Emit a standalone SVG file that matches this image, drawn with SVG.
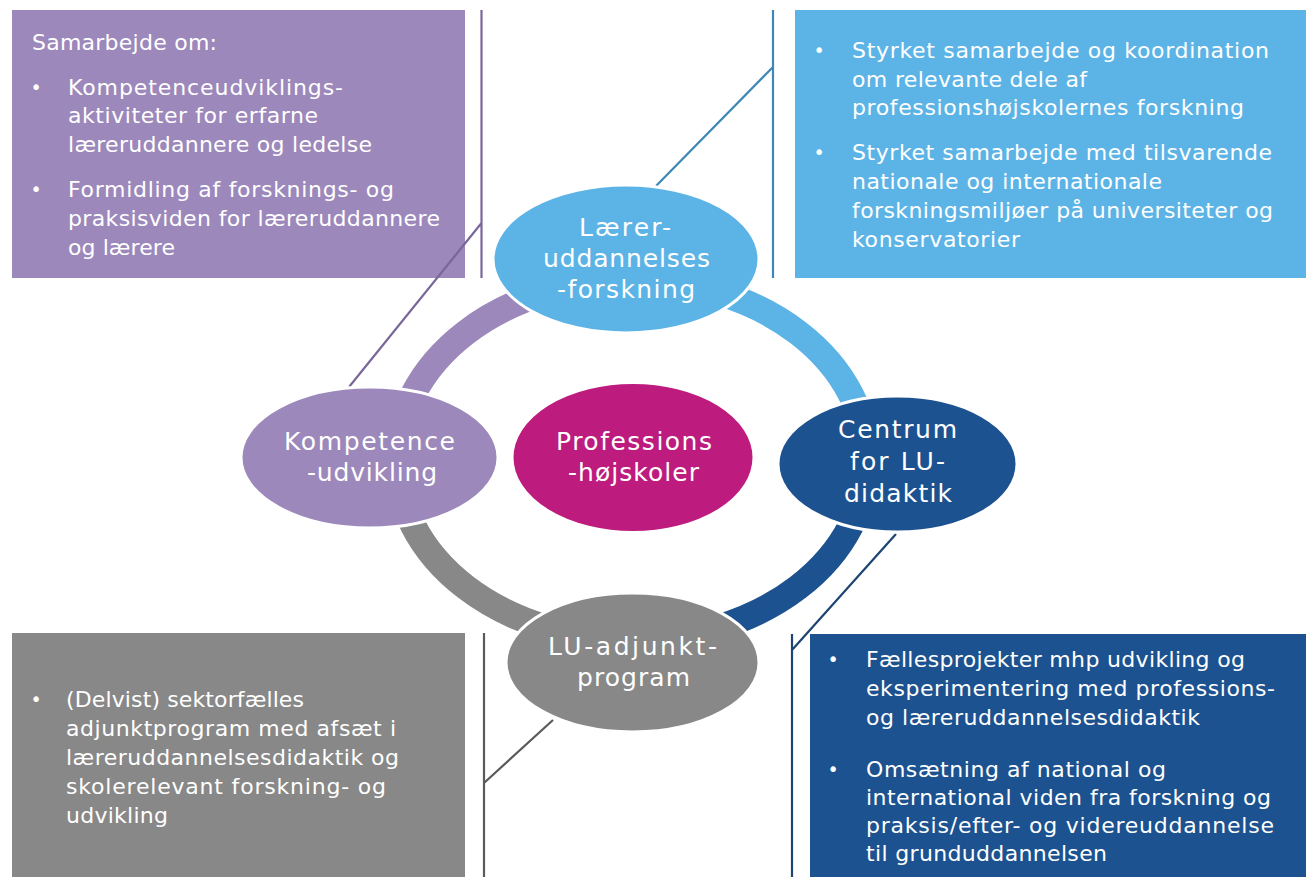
<svg xmlns="http://www.w3.org/2000/svg" width="1306" height="877" viewBox="0 0 1306 877">
<style>
  .bt { font-family: "DejaVu Sans", "Noto Sans", sans-serif; font-size: 22px; fill: #ffffff; }
  .bu { font-family: "DejaVu Sans", "Noto Sans", sans-serif; font-size: 19px; fill: #ffffff; text-anchor: middle; }
  .et { font-family: "DejaVu Sans", "Noto Sans", sans-serif; font-size: 25px; fill: #ffffff; }
  .ring { fill: none; stroke-width: 26; stroke-linecap: butt; }
  .node { stroke: #ffffff; stroke-width: 3; }
  .conn { fill: none; stroke-width: 2.2; }
</style>
<rect width="1306" height="877" fill="#ffffff"/>

<g id="ring">
  <path class="ring" stroke="#9c88bb" d="M 397 460 A 235 180 0 0 1 632 280"/>
  <path class="ring" stroke="#5cb4e6" d="M 632 280 A 235 180 0 0 1 867 460"/>
  <path class="ring" stroke="#1c528f" d="M 867 460 A 235 180 0 0 1 632 640"/>
  <path class="ring" stroke="#888888" d="M 632 640 A 235 180 0 0 1 397 460"/>
</g>

<g id="box-kompetence">
  <rect x="12" y="10" width="453" height="268" fill="#9c88bb"/>
  <text class="bt" x="32" y="50" textLength="185" lengthAdjust="spacing">Samarbejde om:</text>
  <text class="bu" x="36" y="94">•</text>
  <text class="bt" x="68" y="95" textLength="275" lengthAdjust="spacing">Kompetenceudviklings-</text>
  <text class="bt" x="68" y="123" textLength="250" lengthAdjust="spacing">aktiviteter for erfarne</text>
  <text class="bt" x="68" y="152" textLength="304" lengthAdjust="spacing">læreruddannere og ledelse</text>
  <text class="bu" x="36" y="196">•</text>
  <text class="bt" x="68" y="197" textLength="326" lengthAdjust="spacing">Formidling af forsknings- og</text>
  <text class="bt" x="68" y="226" textLength="372" lengthAdjust="spacing">praksisviden for læreruddannere</text>
  <text class="bt" x="68" y="255" textLength="107" lengthAdjust="spacing">og lærere</text>
</g>

<g id="box-forskning">
  <rect x="795" y="10" width="511" height="268" fill="#5cb4e6"/>
  <text class="bu" x="819" y="57">•</text>
  <text class="bt" x="852" y="58" textLength="417" lengthAdjust="spacing">Styrket samarbejde og koordination</text>
  <text class="bt" x="852" y="87" textLength="235" lengthAdjust="spacing">om relevante dele af</text>
  <text class="bt" x="852" y="115" textLength="392" lengthAdjust="spacing">professionshøjskolernes forskning</text>
  <text class="bu" x="819" y="159">•</text>
  <text class="bt" x="852" y="160" textLength="420" lengthAdjust="spacing">Styrket samarbejde med tilsvarende</text>
  <text class="bt" x="852" y="189" textLength="310" lengthAdjust="spacing">nationale og internationale</text>
  <text class="bt" x="852" y="218" textLength="421" lengthAdjust="spacing">forskningsmiljøer på universiteter og</text>
  <text class="bt" x="852" y="247" textLength="168" lengthAdjust="spacing">konservatorier</text>
</g>

<g id="box-adjunkt">
  <rect x="12" y="633" width="453" height="244" fill="#888888"/>
  <text class="bu" x="36" y="706">•</text>
  <text class="bt" x="66" y="707" textLength="238" lengthAdjust="spacing">(Delvist) sektorfælles</text>
  <text class="bt" x="66" y="736" textLength="330" lengthAdjust="spacing">adjunktprogram med afsæt i</text>
  <text class="bt" x="66" y="765" textLength="333" lengthAdjust="spacing">læreruddannelsesdidaktik og</text>
  <text class="bt" x="66" y="794" textLength="320" lengthAdjust="spacing">skolerelevant forskning- og</text>
  <text class="bt" x="66" y="823" textLength="102" lengthAdjust="spacing">udvikling</text>
</g>

<g id="box-centrum">
  <rect x="810" y="634" width="496" height="243" fill="#1c528f"/>
  <text class="bu" x="833" y="666">•</text>
  <text class="bt" x="866" y="667" textLength="379" lengthAdjust="spacing">Fællesprojekter mhp udvikling og</text>
  <text class="bt" x="866" y="696" textLength="409" lengthAdjust="spacing">eksperimentering med professions-</text>
  <text class="bt" x="866" y="725" textLength="334" lengthAdjust="spacing">og læreruddannelsesdidaktik</text>
  <text class="bu" x="833" y="776">•</text>
  <text class="bt" x="866" y="777" textLength="300" lengthAdjust="spacing">Omsætning af national og</text>
  <text class="bt" x="866" y="805" textLength="405" lengthAdjust="spacing">international viden fra forskning og</text>
  <text class="bt" x="866" y="833" textLength="408" lengthAdjust="spacing">praksis/efter- og videreuddannelse</text>
  <text class="bt" x="866" y="861" textLength="241" lengthAdjust="spacing">til grunduddannelsen</text>
</g>

<g id="connectors">
  <path class="conn" stroke="#7a679a" d="M 481.5 10 V 278 M 481.5 223 L 349 387"/>
  <path class="conn" stroke="#3f87b5" d="M 773 10 V 278 M 773 67 L 656 186"/>
  <path class="conn" stroke="#5a5a5a" d="M 484 633 V 877 M 484 783 L 553 720"/>
  <path class="conn" stroke="#1d4472" d="M 792 634 V 877 M 792 650 L 896 534"/>
</g>

<g id="node-laerer">
  <ellipse class="node" cx="626" cy="259" rx="133" ry="74" fill="#5cb4e6"/>
  <text class="et" x="579" y="236" textLength="92" lengthAdjust="spacing">Lærer-</text>
  <text class="et" x="543" y="267" textLength="167" lengthAdjust="spacing">uddannelses</text>
  <text class="et" x="557" y="298" textLength="138" lengthAdjust="spacing">-forskning</text>
</g>

<g id="node-kompetence">
  <ellipse class="node" cx="369.5" cy="457.5" rx="128.5" ry="70.5" fill="#9c88bb"/>
  <text class="et" x="284" y="450" textLength="171" lengthAdjust="spacing">Kompetence</text>
  <text class="et" x="307" y="481" textLength="130" lengthAdjust="spacing">-udvikling</text>
</g>

<g id="node-professions">
  <ellipse class="node" cx="633" cy="457.5" rx="121" ry="75" fill="#bd1c7e"/>
  <text class="et" x="556" y="450" textLength="156" lengthAdjust="spacing">Professions</text>
  <text class="et" x="568" y="481" textLength="131" lengthAdjust="spacing">-højskoler</text>
</g>

<g id="node-centrum">
  <ellipse class="node" cx="897.5" cy="464" rx="119.5" ry="68" fill="#1c528f"/>
  <text class="et" x="838" y="438" textLength="119" lengthAdjust="spacing">Centrum</text>
  <text class="et" x="850" y="470" textLength="95" lengthAdjust="spacing">for LU-</text>
  <text class="et" x="844" y="502" textLength="108" lengthAdjust="spacing">didaktik</text>
</g>

<g id="node-adjunkt">
  <ellipse class="node" cx="632.5" cy="662.5" rx="126.5" ry="69.5" fill="#888888"/>
  <text class="et" x="548" y="655" textLength="169" lengthAdjust="spacing">LU-adjunkt-</text>
  <text class="et" x="577" y="686" textLength="113" lengthAdjust="spacing">program</text>
</g>
</svg>
